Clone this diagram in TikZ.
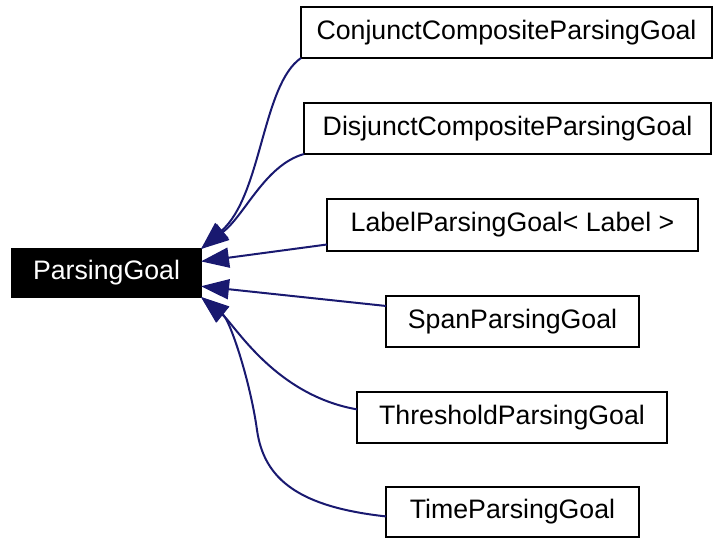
\documentclass[tikz,border=0pt]{standalone}
\usepackage{fontspec}
\setmainfont{Liberation Sans}
\usetikzlibrary{arrows.meta}
\definecolor{edgeblue}{HTML}{191970}

\begin{document}
\begin{tikzpicture}[x=1pt,y=-1pt,inner sep=0pt,outer sep=0pt,
classbox/.style={draw,rectangle,line width=2.4pt,minimum height=51pt,font=\fontsize{26.7}{32}\selectfont},
basebox/.style={classbox,fill=black,text=white},
inherit/.style={edgeblue,line width=2pt,{Triangle[length=28pt,width=20pt]}-}]
\useasboundingbox (0,0) rectangle (714,538);
\draw (106.5,273) node[basebox,minimum width=189pt,minimum height=48pt] (pg) {ParsingGoal};
\draw (506.5,32.5) node[classbox,minimum width=411pt] (conj) {ConjunctCompositeParsingGoal};
\draw (507.5,128.5) node[classbox,minimum width=407pt] (disj) {DisjunctCompositeParsingGoal};
\draw (512.5,225) node[classbox,minimum width=371pt,minimum height=52pt] (label) {LabelParsingGoal< Label >};
\draw (512.5,321.5) node[classbox,minimum width=253pt] (span) {SpanParsingGoal};
\draw (512,417.5) node[classbox,minimum width=310pt] (thr) {ThresholdParsingGoal};
\draw (512.5,512) node[classbox,minimum width=253pt,minimum height=50pt] (time) {TimeParsingGoal};
\draw[inherit] (pg.north east) .. controls (262,195) and (262,85) .. (conj.south west);
\draw[inherit] (pg.north east) .. controls (245,215) and (265,165) .. (disj.south west);
\draw[inherit] (pg.7) -- (label.186);
\draw[inherit] (pg.-8) -- (span.173);
\draw[inherit] (pg.south east) .. controls (235,325) and (275,395) .. (thr.177);
\draw[inherit] (pg.south east) .. controls (230,320) and (250,380) .. (257,430)
  .. controls (264,480) and (300,507) .. (time.182);
\end{tikzpicture}
\end{document}
